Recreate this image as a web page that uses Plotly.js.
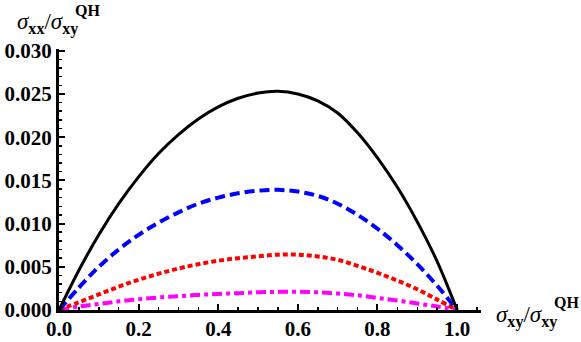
<!DOCTYPE html>
<html>
<head>
<meta charset="utf-8">
<script src="https://cdn.plot.ly/plotly-3.0.1.min.js"></script>
<style>
  html, body { margin: 0; padding: 0; background: #fff; }
  #graphs-div { width: 581px; height: 342px; }
</style>
</head>
<body>
<div id="graphs-div"></div>
<script>
// x values: sigma_xy / sigma_xy^QH
const xValues = [0, 0.05, 0.1, 0.15, 0.2, 0.25, 0.3, 0.35, 0.4, 0.45, 0.5,
                 0.55, 0.6, 0.65, 0.7, 0.75, 0.8, 0.85, 0.9, 0.95, 1.0];

// sigma_xx / sigma_xy^QH, one array per curve
const blackSolid = [0, 0.0046, 0.0087, 0.0123, 0.0154, 0.0181, 0.0203, 0.0221, 0.0235, 0.0245, 0.0251,
                    0.0253, 0.0250, 0.0242, 0.0228, 0.0205, 0.0176, 0.0142, 0.0102, 0.0056, 0];
const blueDashed = [0, 0.0026, 0.0050, 0.0070, 0.0087, 0.0101, 0.0113, 0.0123, 0.0130, 0.0135, 0.0138,
                    0.0139, 0.0137, 0.0132, 0.0123, 0.0110, 0.0094, 0.0075, 0.0053, 0.0028, 0];
const redDotted  = [0, 0.0009, 0.0018, 0.0027, 0.0035, 0.0042, 0.0048, 0.0053, 0.0057, 0.0060, 0.0062,
                    0.0064, 0.0064, 0.0062, 0.0058, 0.0051, 0.0043, 0.0034, 0.0024, 0.0012, 0];
const magentaDashDot = [0, 0.0004, 0.0007, 0.0010, 0.00125, 0.00145, 0.0016, 0.00175, 0.00185, 0.00195, 0.00205,
                        0.0021, 0.0021, 0.00205, 0.0019, 0.0017, 0.0014, 0.0011, 0.00075, 0.0004, 0];

const xTickVals = [0, 0.2, 0.4, 0.6, 0.8, 1.0];
const xTickText = ['0.0', '0.2', '0.4', '0.6', '0.8', '1.0'];
const yTickVals = [0, 0.005, 0.010, 0.015, 0.020, 0.025, 0.030];
const yTickText = ['0.000', '0.005', '0.010', '0.015', '0.020', '0.025', '0.030'];

const serif = 'Liberation Serif';

function curve(yValues, color, dash, width) {
    return {
        x: xValues,
        y: yValues,
        mode: 'lines',
        type: 'scatter',
        line: { color: color, dash: dash, width: width, shape: 'spline', smoothing: 1 },
        hoverinfo: 'skip'
    };
}

const data = [
    curve(magentaDashDot, '#ff00ff', '10px,4px,4px,4px', 4),
    curve(redDotted, '#ff0000', '5px,3px', 4),
    curve(blueDashed, '#0000ff', '10px,5px', 4),
    curve(blackSolid, '#000000', 'solid', 3)
];

// plot area is 422 x 261 px (l=59, t=49)
const layout = {
    width: 581,
    height: 342,
    margin: { l: 59, r: 100, t: 49, b: 32, pad: 0 },
    paper_bgcolor: '#ffffff',
    plot_bgcolor: '#ffffff',
    showlegend: false,
    font: { family: serif, color: '#000000' },
    xaxis: {
        range: [0, 1.06],
        tickvals: xTickVals,
        ticktext: xTickText.map(t => '<b>' + t + '</b>'),
        ticks: 'inside',
        ticklen: 6,
        tickwidth: 2,
        tickcolor: '#000',
        minor: { dtick: 0.05, ticks: 'inside', ticklen: 3, tickwidth: 1.5, tickcolor: '#000' },
        showline: true,
        linewidth: 3,
        linecolor: '#000',
        showgrid: false,
        zeroline: false,
        ticklabelstandoff: -2,
        tickfont: { family: serif, size: 21, color: '#000' }
    },
    yaxis: {
        range: [0, 0.0302],
        tickvals: yTickVals,
        ticktext: yTickText.map(t => '<b>' + t + '</b>'),
        ticks: 'inside',
        ticklen: 6,
        tickwidth: 2,
        tickcolor: '#000',
        minor: { dtick: 0.001, ticks: 'inside', ticklen: 3, tickwidth: 1.5, tickcolor: '#000' },
        showline: true,
        linewidth: 3,
        linecolor: '#000',
        showgrid: false,
        zeroline: false,
        tickfont: { family: serif, size: 21, color: '#000' }
    },
    annotations: [
        {
            xref: 'paper', yref: 'paper', x: -0.105, y: 1.096,
            xanchor: 'left', yanchor: 'middle', showarrow: false,
            text: '<i>σ</i><sub><b>xx</b></sub>/<i>σ</i><sub><b>xy</b></sub>',
            font: { family: serif, size: 23, color: '#000' }
        },
        {
            xref: 'paper', yref: 'paper', x: 0.068, y: 1.149,
            xanchor: 'center', yanchor: 'middle', showarrow: false,
            text: '<b>QH</b>',
            font: { family: serif, size: 16, color: '#000' }
        },
        {
            xref: 'paper', yref: 'paper', x: 1.03, y: -0.023,
            xanchor: 'left', yanchor: 'middle', showarrow: false,
            text: '<i>σ</i><sub><b>xy</b></sub>/<i>σ</i><sub><b>xy</b></sub>',
            font: { family: serif, size: 23, color: '#000' }
        },
        {
            xref: 'paper', yref: 'paper', x: 1.203, y: 0.027,
            xanchor: 'center', yanchor: 'middle', showarrow: false,
            text: '<b>QH</b>',
            font: { family: serif, size: 16, color: '#000' }
        }
    ]
};

Plotly.newPlot('graphs-div', data, layout, { staticPlot: true, displayModeBar: false });
</script>
</body>
</html>
